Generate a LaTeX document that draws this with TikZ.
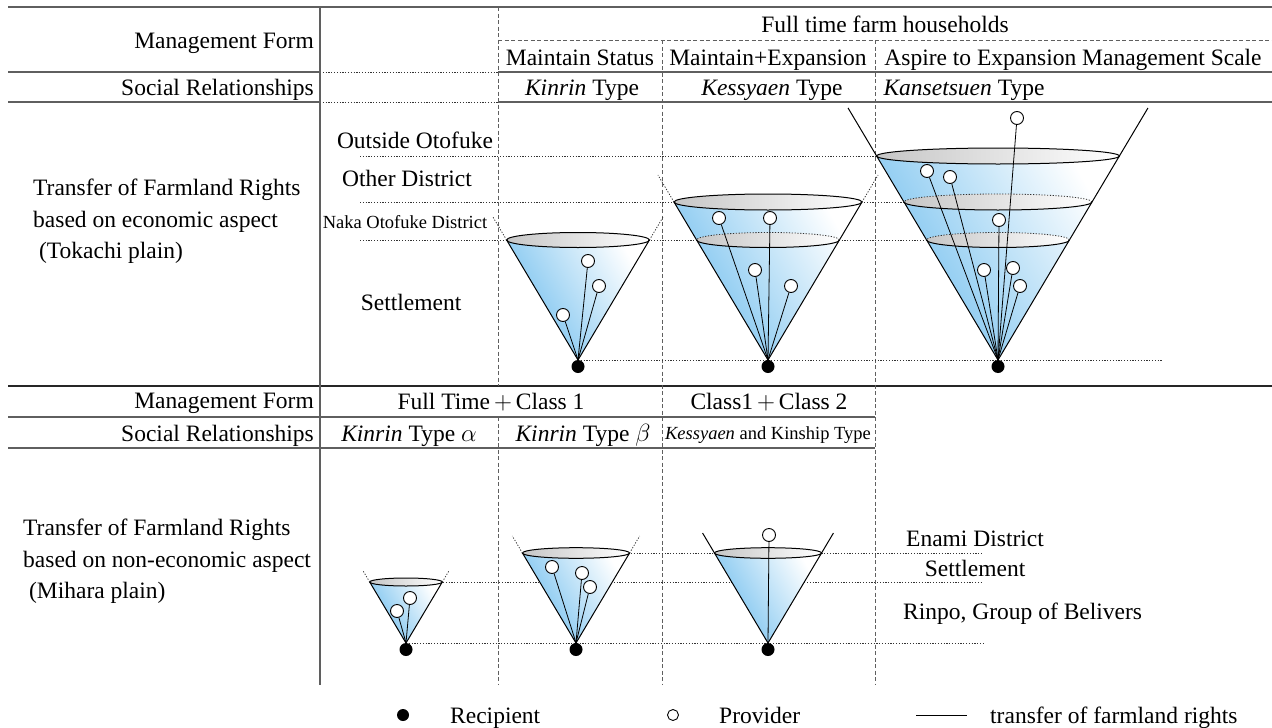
\documentclass[tikz,border=0pt]{standalone}
\usepackage{fontspec}
\setmainfont{Liberation Serif}
\definecolor{coneblue}{RGB}{112,190,238}
\definecolor{rimgray}{RGB}{198,198,198}
\definecolor{gridgray}{RGB}{95,95,95}

% cone: apex x, apex y, rim y, rim half height
\newcommand{\farmcone}[4]{%
  \pgfmathsetmacro{\hw}{0.595*(#2-#3)}
  \shade[left color=coneblue,right color=white,shading angle=120]
    (#1-\hw,#3) -- (#1,#2) -- (#1+\hw,#3)
    arc[start angle=0,end angle=180,x radius=\hw,y radius=#4] -- cycle;
  \draw[coneline,left color=rimgray,right color=white] (#1,#3) ellipse[x radius=\hw,y radius=#4];
  \draw[coneline] (#1-\hw,#3) -- (#1,#2) -- (#1+\hw,#3);
}
% cross section of a cone at level y
\newcommand{\conelevel}[4]{%
  \pgfmathsetmacro{\lw}{0.595*(#2-#3)}
  \shade[left color=rimgray,right color=white] (#1,#3) ellipse[x radius=\lw,y radius=#4];
  \draw[levelline] (#1+\lw,#3) arc[start angle=0,end angle=-180,x radius=\lw,y radius=#4];
  \draw[coneline] (#1+\lw,#3) arc[start angle=0,end angle=180,x radius=\lw,y radius=#4];
}
% sides of a cone above the rim: apex x, apex y, rim y, top y, style
\newcommand{\coneext}[5]{%
  \pgfmathsetmacro{\rw}{0.595*(#2-#3)}
  \pgfmathsetmacro{\ew}{0.595*(#2-#4)}
  \draw[#5] (#1-\rw,#3) -- (#1-\ew,#4);
  \draw[#5] (#1+\rw,#3) -- (#1+\ew,#4);
}

\begin{document}
\begin{tikzpicture}[x=1pt,y=-1pt,
  lbl/.style={font=\fontsize{23.5}{31.5}\selectfont,inner sep=0pt},
  smalllbl/.style={font=\fontsize{18.5}{22}\selectfont,inner sep=0pt},
  rule/.style={gridgray,line width=1.2pt},
  dashv/.style={gridgray,line width=0.9pt,dash pattern=on 4pt off 2.5pt},
  levelline/.style={black!80,line width=0.8pt,dash pattern=on 1.2pt off 1.6pt},
  coneline/.style={line width=1pt},
  prov/.style={circle,draw,fill=white,line width=0.9pt,minimum size=13pt,inner sep=0pt},
  recv/.style={circle,fill=black,minimum size=13pt,inner sep=0pt},
  link/.style={line width=0.8pt}
]
\useasboundingbox (0,0) rectangle (1272,728);

% table rules
\draw[rule] (8,7) -- (1272,7);
\draw[dashv] (498,40) -- (1272,40);
\draw[rule] (8,72) -- (320,72); \draw[levelline] (320,72) -- (498,72); \draw[rule] (498,72) -- (1272,72);
\draw[rule] (8,102) -- (320,102); \draw[levelline] (320,102) -- (498,102); \draw[rule] (498,102) -- (1272,102);
\draw[black!85,line width=2.5pt] (8,386) -- (1272,386);
\draw[rule] (8,417) -- (875,417);
\draw[rule] (8,448) -- (875,448);
\draw[rule] (320,7) -- (320,685);
\draw[dashv] (498,7) -- (498,386); \draw[dashv] (498,417) -- (498,685);
\draw[dashv] (662,40) -- (662,685);
\draw[dashv] (875,40) -- (875,685);

% header texts
\node[lbl,anchor=base east] (mfTop) at (314,48) {Management Form};
\node[lbl,anchor=base east] (srTop) at (314,95) {Social Relationships};
\node[lbl,anchor=base] (fullTime) at (885,32) {Full time farm households};
\node[lbl,anchor=base] (maintStat) at (580,65) {Maintain Status};
\node[lbl,anchor=base] (maintExp) at (768,65) {Maintain+Expansion};
\node[lbl,anchor=base] (aspire) at (1073,65) {Aspire to Expansion Management Scale};
\node[lbl,anchor=base] (kinType) at (582,95) {\textit{Kinrin} Type};
\node[lbl,anchor=base] (kesType) at (772,95) {\textit{Kessyaen} Type};
\node[lbl,anchor=base] (kanType) at (964,95) {\textit{Kansetsuen} Type};

\node[lbl,align=left,anchor=north west] (econ) at (33,179)
  {Transfer of Farmland Rights\\based on economic aspect\\\ (Tokachi plain)};
\node[lbl,anchor=base] (outside) at (415,148) {Outside Otofuke};
\node[lbl,anchor=base] (otherDist) at (407,186) {Other District};
\node[smalllbl,anchor=base] (naka) at (405,228) {Naka Otofuke District};
\node[lbl,anchor=base] (settleTop) at (411,310) {Settlement};

% level lines, upper part
\draw[levelline] (360,156) -- (878,156);
\draw[levelline] (360,202) -- (905,202);
\draw[levelline] (360,240) -- (927,240);
\draw[levelline] (578,360) -- (1163,360);

% cones, upper part
\farmcone{578}{360}{240}{7.5}
\coneext{578}{360}{240}{217}{levelline}
\farmcone{768}{360}{202}{8}
\conelevel{768}{360}{240}{7.5}
\coneext{768}{360}{202}{175}{levelline}
\farmcone{998}{360}{156}{8}
\conelevel{998}{360}{202}{8}
\conelevel{998}{360}{240}{7.5}
\coneext{998}{360}{156}{108}{coneline}

\node[recv] (kinR) at (578,366.5) {};
\node[prov] (kinP1) at (588,261) {};
\node[prov] (kinP2) at (599,286) {};
\node[prov] (kinP3) at (563,315) {};
\draw[link] (kinP1) -- (kinR.north); \draw[link] (kinP2) -- (kinR.north); \draw[link] (kinP3) -- (kinR.north);

\node[recv] (kesR) at (768,366.5) {};
\node[prov] (kesP1) at (719,218) {};
\node[prov] (kesP2) at (770,218) {};
\node[prov] (kesP3) at (755,270) {};
\node[prov] (kesP4) at (791,286) {};
\draw[link] (kesP1) -- (kesR.north); \draw[link] (kesP2) -- (kesR.north);
\draw[link] (kesP3) -- (kesR.north); \draw[link] (kesP4) -- (kesR.north);

\node[recv] (kanR) at (998,366.5) {};
\node[prov] (kanP1) at (1017,118) {};
\node[prov] (kanP2) at (927,171) {};
\node[prov] (kanP3) at (950,177) {};
\node[prov] (kanP4) at (999,220) {};
\node[prov] (kanP5) at (984,270) {};
\node[prov] (kanP6) at (1013,268) {};
\node[prov] (kanP7) at (1020,286) {};
\draw[link] (kanP1) -- (kanR.north); \draw[link] (kanP2) -- (kanR.north); \draw[link] (kanP3) -- (kanR.north);
\draw[link] (kanP4) -- (kanR.north); \draw[link] (kanP5) -- (kanR.north); \draw[link] (kanP6) -- (kanR.north);
\draw[link] (kanP7) -- (kanR.north);

% lower part
\node[lbl,anchor=base east] (mfBot) at (314,408) {Management Form};
\node[lbl,anchor=base east] (srBot) at (314,441) {Social Relationships};
\node[lbl,anchor=base] (fullClass) at (491,409) {Full Time\,$+$\,Class 1};
\node[lbl,anchor=base] (classTwo) at (769,409) {Class1\,$+$\,Class 2};
\node[lbl,anchor=base] (alpType) at (409,441) {\textit{Kinrin} Type $\alpha$};
\node[lbl,anchor=base] (betType) at (583,441) {\textit{Kinrin} Type $\beta$};
\node[smalllbl,anchor=base] (kkType) at (768,439) {\textit{Kessyaen} and Kinship Type};
\node[lbl,align=left,anchor=north west] (nonEcon) at (23,519)
  {Transfer of Farmland Rights\\based on non-economic aspect\\\ (Mihara plain)};
\node[lbl,anchor=base] (enami) at (975,546) {Enami District};
\node[lbl,anchor=base] (settleBot) at (975,576) {Settlement};
\node[lbl,anchor=base west] (rinpo) at (903,619) {Rinpo, Group of Belivers};

\draw[levelline] (631,553) -- (983,553);
\draw[levelline] (443,582) -- (983,582);
\draw[levelline] (406,643) -- (983,643);

\farmcone{406}{643}{582}{4}
\coneext{406}{643}{582}{570}{levelline}
\farmcone{576}{643}{553}{5.3}
\coneext{576}{643}{553}{536}{levelline}
\farmcone{768}{643}{553}{5.3}
\coneext{768}{643}{553}{533}{coneline}

\node[recv] (alpR) at (406,649.5) {};
\node[prov] (alpP1) at (410,598) {};
\node[prov] (alpP2) at (397,611) {};
\draw[link] (alpP1) -- (alpR.north); \draw[link] (alpP2) -- (alpR.north);

\node[recv] (betR) at (576,649.5) {};
\node[prov] (betP1) at (552,567) {};
\node[prov] (betP2) at (582,573) {};
\node[prov] (betP3) at (590,587) {};
\draw[link] (betP1) -- (betR.north); \draw[link] (betP2) -- (betR.north); \draw[link] (betP3) -- (betR.north);

\node[recv] (kkR) at (768,649.5) {};
\node[prov] (kkP1) at (769,535) {};
\draw[link] (kkP1) -- (kkR.north);

% key
\node[recv,minimum size=12pt] (keyR) at (403,715) {};
\node[lbl,anchor=base west] (keyRt) at (450,723) {Recipient};
\node[prov,minimum size=11pt] (keyP) at (673,715) {};
\node[lbl,anchor=base west] (keyPt) at (719,723) {Provider};
\coordinate (keyL1) at (916,715);
\coordinate (keyL2) at (967,715);
\draw[link] (keyL1) -- (keyL2);
\node[lbl,anchor=base west] (keyLt) at (990,723) {transfer of farmland rights};
\end{tikzpicture}
\end{document}
